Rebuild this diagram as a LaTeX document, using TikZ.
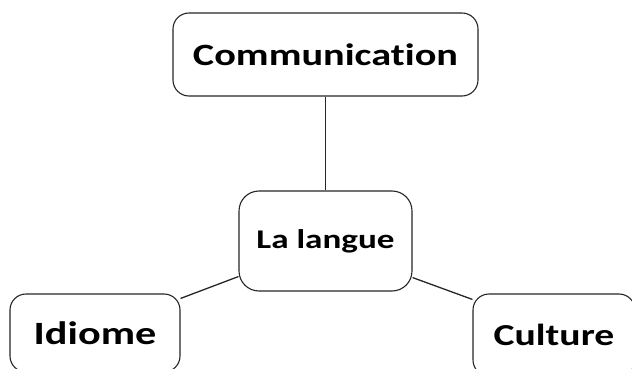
\documentclass[tikz,border=0pt]{standalone}
\usepackage{fontspec}
\setmainfont{Carlito}[Ligatures={NoCommon}]
\usepackage{graphicx}
\begin{document}
\begin{tikzpicture}[x=1pt,y=-1pt,
  box/.style={draw=black!85, line width=1.1pt, rounded corners=16pt, fill=white, inner sep=0pt},
  link/.style={draw=black!85, line width=1.3pt}]
\useasboundingbox (0,0) rectangle (632,369);
\clip (0,0) rectangle (632,369);
\node[box, minimum width=305pt, minimum height=83pt, font=\fontsize{31}{31}\selectfont\bfseries] (comm) at (325.5,54.5) {\scalebox{1.3}[1]{Communication}};
\node[box, minimum width=173pt, minimum height=100pt, rounded corners=20pt, font=\fontsize{27}{27}\selectfont\bfseries] (lang) at (325.5,241) {\scalebox{1.3}[1]{La langue}};
\node[box, minimum width=170pt, minimum height=78pt, font=\fontsize{32.5}{32.5}\selectfont\bfseries] (idiome) at (95,333) {\scalebox{1.3}[1]{Idiome}};
\node[box, minimum width=162pt, minimum height=82pt, font=\fontsize{30.5}{30.5}\selectfont\bfseries] (culture) at (554,335) {\scalebox{1.3}[1]{Culture}};
\draw[link] (comm.south) -- (lang.north);
\draw[link] ([yshift=15pt]lang.south west) -- ([yshift=-5pt]idiome.north east);
\draw[link] ([yshift=14pt]lang.south east) -- ([yshift=-6pt]culture.north west);
\end{tikzpicture}
\end{document}
